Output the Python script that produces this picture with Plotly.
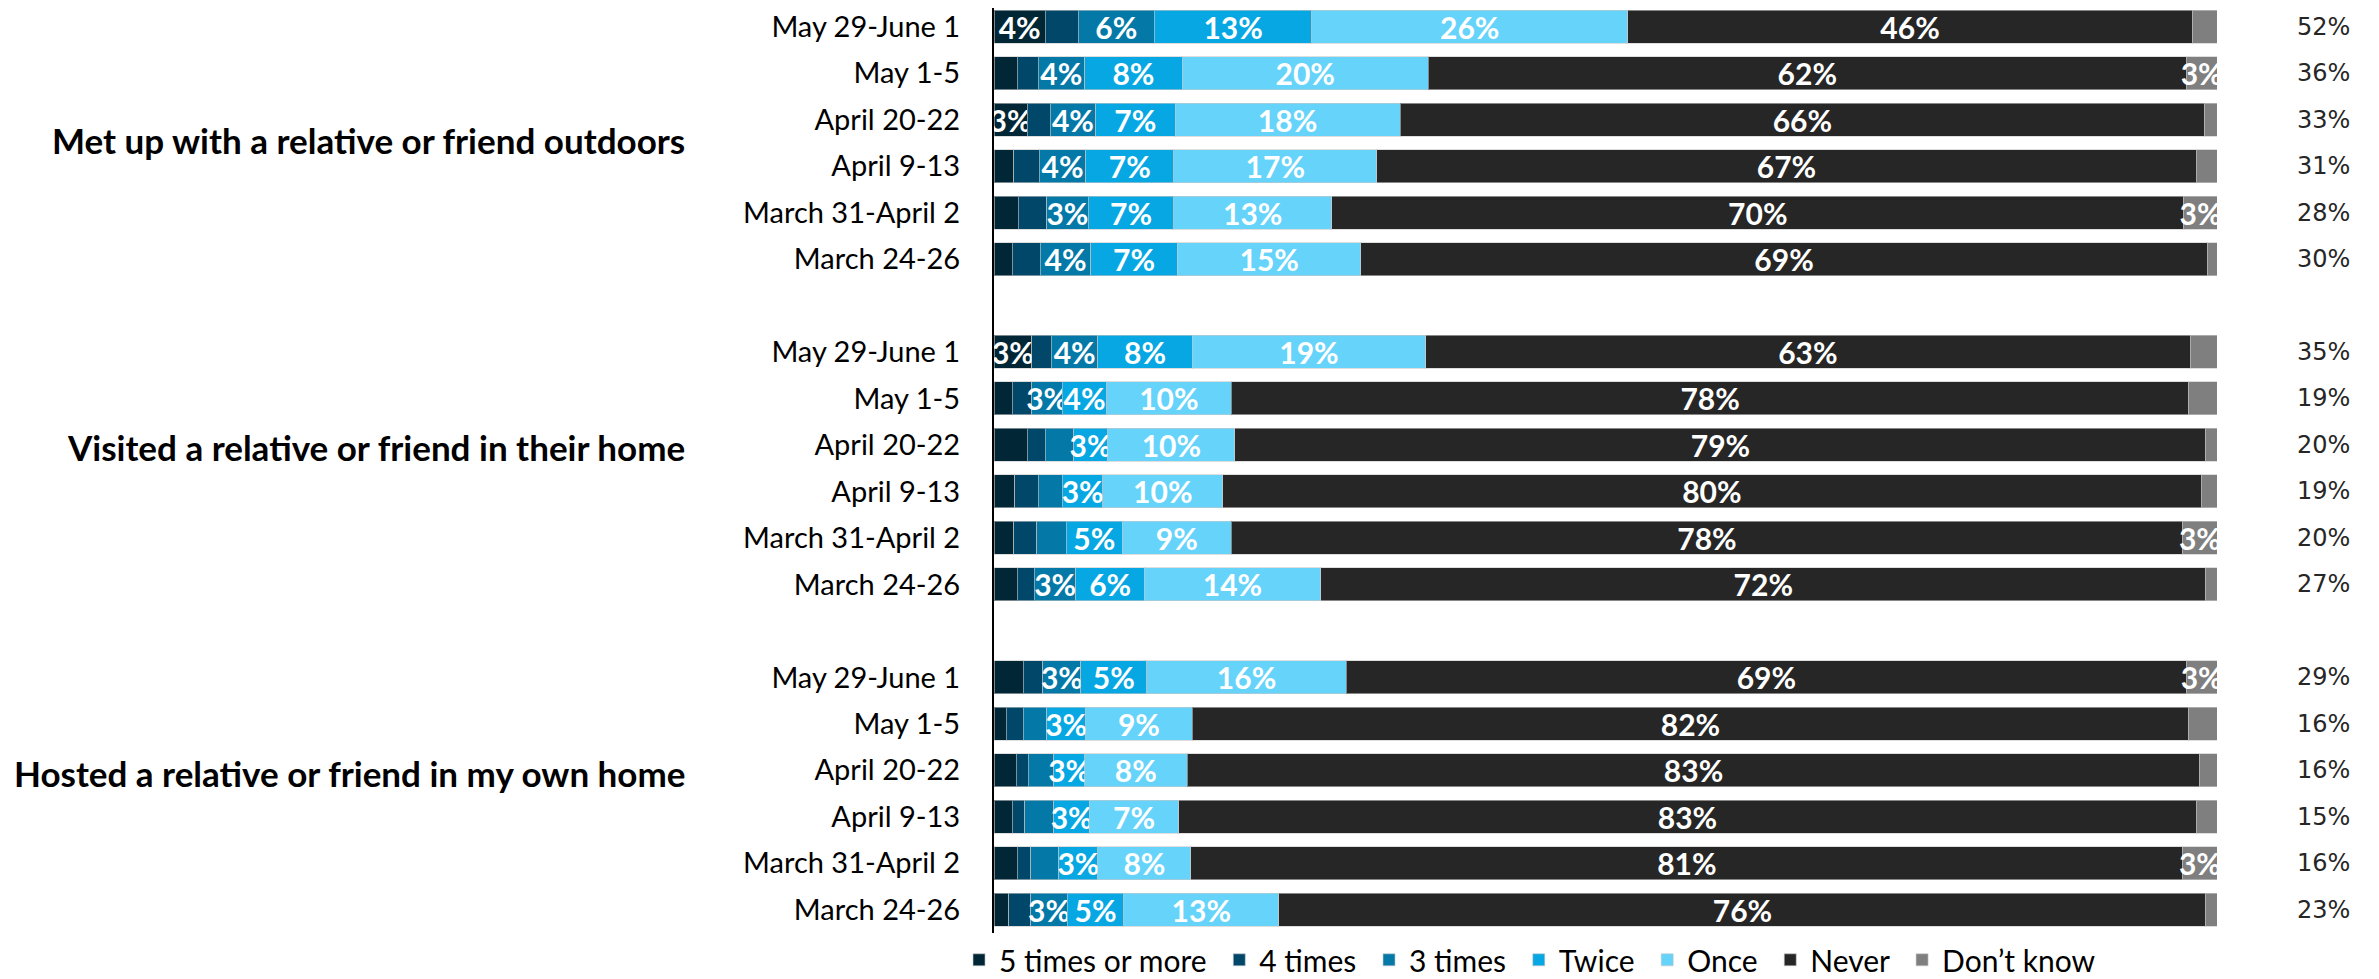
import plotly.graph_objects as go

# ---------------- data ----------------
groups = [
    "Met up with a relative or friend outdoors",
    "Visited a relative or friend in their home",
    "Hosted a relative or friend in my own home",
]
periods = ["May 29-June 1", "May 1-5", "April 20-22", "April 9-13",
           "March 31-April 2", "March 24-26"]
series_names = ["5 times or more", "4 times", "3 times", "Twice", "Once",
                "Never", "Don\u2019t know"]
colors = ["#012636", "#01476A", "#0479A8", "#06A7E2", "#66D3FA",
          "#262626", "#7F7F7F"]

five_plus = [4.2, 1.9, 2.7, 1.6, 2.0, 1.5,
             3.1, 1.5, 2.7, 1.7, 1.6, 1.9,
             2.4, 1.0, 1.8, 1.5, 1.9, 1.2]
four_times = [2.7, 1.7, 1.9, 2.1, 2.3, 2.3,
              1.6, 1.6, 1.5, 1.9, 1.9, 1.4,
              1.6, 1.4, 1.0, 1.0, 1.1, 1.8]
three_times = [6.2, 3.8, 3.7, 3.8, 3.4, 4.1,
               3.8, 2.5, 2.3, 2.0, 2.4, 3.4,
               3.1, 1.9, 2.1, 2.4, 2.3, 3.0]
twice = [12.9, 8.0, 6.5, 7.2, 7.0, 7.1,
         7.7, 3.6, 2.8, 3.3, 4.6, 5.6,
         5.4, 3.2, 2.5, 2.9, 3.2, 4.6]
once = [25.8, 20.1, 18.4, 16.6, 12.9, 15.0,
        19.1, 10.2, 10.4, 9.8, 8.9, 14.4,
        16.3, 8.7, 8.4, 7.3, 7.6, 12.7]
never = [46.2, 62.0, 65.8, 67.0, 69.7, 69.2,
         62.5, 78.3, 79.4, 80.0, 77.8, 72.4,
         68.7, 81.5, 82.8, 83.2, 81.1, 75.8]
dont_know = [2.0, 2.5, 1.0, 1.7, 2.7, 0.8,
             2.2, 2.3, 0.9, 1.3, 2.8, 0.9,
             2.5, 2.3, 1.4, 1.7, 2.8, 0.9]
at_least_once = [52, 36, 33, 31, 28, 30,
                 35, 19, 20, 19, 20, 27,
                 29, 16, 16, 15, 16, 23]

# labels that the original omits although the segment is wide enough
hidden_labels = [(1, 0), (0, 8)]   # (series index, row index)
label_min = 2.45

all_series = [five_plus, four_times, three_times, twice, once, never, dont_know]

# ---------------- figure ----------------
n_per_group = len(periods)
row_y = [g * (n_per_group + 1) + r for g in range(len(groups)) for r in range(n_per_group)]
tick_text = periods * len(groups)

fig = go.Figure()
for s, (name, vals, col) in enumerate(zip(series_names, all_series, colors)):
    texts = []
    for i, v in enumerate(vals):
        if v >= label_min and (s, i) not in hidden_labels:
            texts.append(f"{int(v + 0.5)}%")
        else:
            texts.append("")
    fig.add_trace(go.Bar(
        name=name + "\u00a0", x=vals, y=row_y, orientation="h",
        marker=dict(color=col, line=dict(color="rgba(200,200,200,0.6)", width=1)),
        width=0.71,
        text=texts, textposition="inside", insidetextanchor="middle",
        textangle=0, constraintext="none",
        textfont=dict(family="Lato", size=30, color="white", weight="bold"),
        hoverinfo="skip",
    ))

annotations = []
# totals column on the right
for y, v in zip(row_y, at_least_once):
    annotations.append(dict(
        x=1.0874, y=y, xref="paper", yref="y", text=f"{v}%", showarrow=False,
        xanchor="center", yanchor="middle",
        font=dict(family="DejaVu Sans", size=24, color="#262626"),
    ))
# group labels on the left
group_offsets = [2.45, 2.05, 2.05]
for g, label in enumerate(groups):
    annotations.append(dict(
        x=-0.251, y=g * (n_per_group + 1) + group_offsets[g],
        xref="paper", yref="y", text=f"<b>{label}</b>", showarrow=False,
        xanchor="right", yanchor="middle",
        font=dict(family="Lato", size=35, color="black"),
    ))

n_slots = len(row_y) + len(groups) - 1
fig.update_layout(
    barmode="stack",
    width=2371, height=971,
    margin=dict(l=986, r=162, t=0, b=46, autoexpand=False),
    plot_bgcolor="white", paper_bgcolor="white",
    showlegend=True,
    legend=dict(
        orientation="h", x=-0.0286, xanchor="left", y=-0.029, yanchor="middle",
        font=dict(family="Lato", size=30, color="black"),
        itemwidth=30, tracegroupgap=0, traceorder="normal",
        bgcolor="rgba(0,0,0,0)",
    ),
    annotations=annotations,
    uniformtext=dict(mode=False),
)
fig.update_xaxes(range=[0, 100], visible=False, fixedrange=True, automargin=False)
fig.update_yaxes(
    range=[n_slots - 0.5, -0.4],
    tickmode="array", tickvals=row_y, ticktext=tick_text,
    showline=True, linecolor="black", linewidth=2,
    showgrid=False, zeroline=False, ticks="", automargin=False,
    ticklabelstandoff=26, ticklabeloverflow="allow",
    tickfont=dict(family="Lato", size=29, color="black"),
)

fig.write_html("out.html")
